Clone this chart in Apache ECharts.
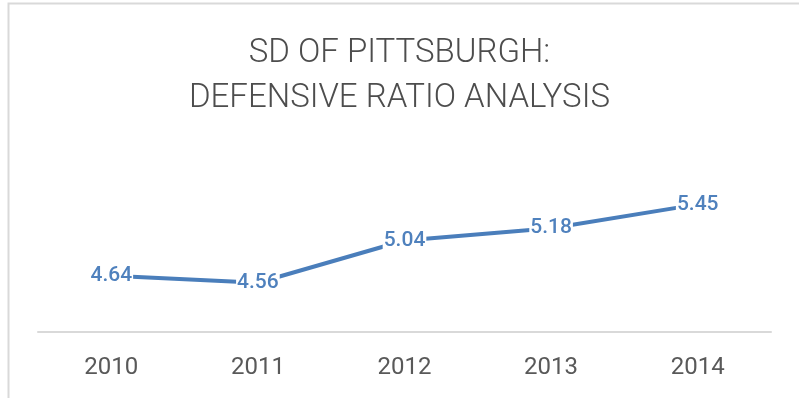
<!DOCTYPE html>
<html><head><meta charset="utf-8">
<script src="https://cdn.jsdelivr.net/npm/echarts@6/dist/echarts.min.js"></script>
<style>html,body{margin:0;padding:0;background:#fff}#c{width:799px;height:398px}</style>
</head><body><div id="c"></div>
<script>
const categories = ['2010','2011','2012','2013','2014'];
const ratioValues = [4.64, 4.56, 5.04, 5.18, 5.45];
const titleText = 'SD OF PITTSBURGH:\nDEFENSIVE RATIO ANALYSIS';

const chart = echarts.init(document.getElementById('c'), null, {renderer:'canvas'});
chart.setOption({
  animation:false,
  backgroundColor:'#fff',
  graphic:[{type:'rect',shape:{x:8.5,y:3.5,width:820,height:420},style:{fill:'none',stroke:'#d9d9d9',lineWidth:2}}],
  title:{text:titleText,left:'center',top:26,textStyle:{fontFamily:'Roboto',fontWeight:300,fontSize:33,color:'#4d4d4d',lineHeight:45}},
  grid:{left:38,right:28,top:156,bottom:66,containLabel:false},
  xAxis:{type:'category',data:categories,boundaryGap:true,
    axisLine:{lineStyle:{color:'#d9d9d9',width:2}},axisTick:{show:false},
    axisLabel:{fontFamily:'Roboto',fontSize:24,color:'#595959',margin:24}},
  yAxis:{type:'value',min:4,max:6,show:false,splitLine:{show:false}},
  series:[{type:'line',data:ratioValues,symbol:'circle',symbolSize:1,showSymbol:true,
    lineStyle:{color:'#4a7ebb',width:4},itemStyle:{color:'#4a7ebb'},
    label:{show:true,position:'inside',formatter:p=>p.value.toFixed(2),fontFamily:'Roboto',fontWeight:500,fontSize:21,color:'#4f81bd',backgroundColor:'#fff',padding:[0,1]}}]
});
</script></body></html>
